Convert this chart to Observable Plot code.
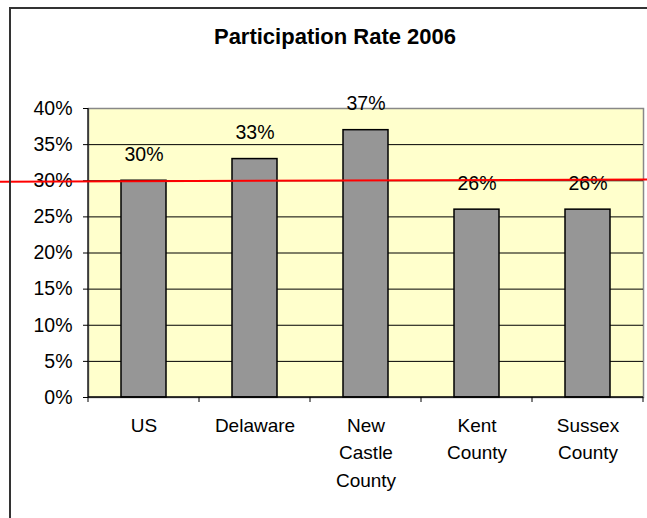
<!DOCTYPE html>
<html>
<head>
<meta charset="utf-8">
<script src="https://cdn.jsdelivr.net/npm/d3@7"></script>
<script src="https://cdn.jsdelivr.net/npm/@observablehq/plot@0.6"></script>
<style>
  html, body { margin: 0; padding: 0; background: #fff; }
  #wrap { position: relative; width: 647px; height: 518px; overflow: hidden; }
  #wrap svg { position: absolute; left: 0; top: 0; }
  #border { position: absolute; left: 9px; top: 7px; width: 700px; height: 600px;
            border-left: 2px solid #333; border-top: 2px solid #333; pointer-events: none; }
</style>
</head>
<body>
<div id="wrap"><div id="border"></div></div>
<script>
// ---- data ----
const title = "Participation Rate 2006";
const categories = ["US", "Delaware", "New Castle County", "Kent County", "Sussex County"];
const xLabels = ["US", "Delaware", "New\nCastle\nCounty", "Kent\nCounty", "Sussex\nCounty"];
const values = [0.30, 0.33, 0.37, 0.26, 0.26];
const yTicks = [0, 0.05, 0.10, 0.15, 0.20, 0.25, 0.30, 0.35, 0.40];
const gridTicks = [0.05, 0.10, 0.15, 0.20, 0.25, 0.30, 0.35];
const refLine = [0.298, 0.301]; // red reference line, left end / right end value

const data = categories.map((c, i) => ({category: c, value: values[i]}));
const pct = d3.format(".0%");

// axis decorations: left axis line, bottom category-boundary ticks
function axisDecor(index, scales, values, dims) {
  const g = d3.create("svg:g");
  const x = scales.x, y = scales.y;
  const left = dims.marginLeft, right = dims.width - dims.marginRight;
  const y0 = y(0), yTop = dims.marginTop;
  g.append("line").attr("x1", left).attr("x2", left).attr("y1", yTop).attr("y2", y0)
    .attr("stroke", "#222").attr("stroke-width", 1.5);
  g.append("line").attr("x1", left).attr("x2", right).attr("y1", y0).attr("y2", y0)
    .attr("stroke", "#000").attr("stroke-width", 1.5);
  const bounds = categories.map(c => x(c)).concat([right]);
  for (const b of bounds) {
    g.append("line").attr("x1", b).attr("x2", b).attr("y1", y0).attr("y2", y0 + 5)
      .attr("stroke", "#000").attr("stroke-width", 1);
  }
  return g.node();
}

// red reference line spanning the full width
function redLine(index, scales, values, dims) {
  return d3.create("svg:line")
    .attr("x1", 0).attr("x2", dims.width)
    .attr("y1", scales.y(refLine[0])).attr("y2", scales.y(refLine[1]))
    .attr("stroke", "#ff0000").attr("stroke-width", 2)
    .node();
}

const chart = Plot.plot({
  width: 647,
  height: 518,
  marginTop: 108,
  marginBottom: 121,
  marginLeft: 88,
  marginRight: 4,
  style: {fontFamily: "'Liberation Sans', Arial, sans-serif", fontSize: "19px", background: "transparent", color: "#000"},
  x: {domain: categories, padding: 0, axis: null},
  y: {domain: [0, 0.40], axis: null},
  marks: [
    Plot.frame({fill: "#FFFFCC", stroke: "#888", strokeWidth: 1.5}),
    Plot.ruleY(gridTicks, {stroke: "#000", strokeWidth: 1}),
    Plot.barY(data, {x: "category", y: "value", fill: "#969696", stroke: "#000", strokeWidth: 1.5, insetLeft: 33, insetRight: 33}),
    axisDecor,
    Plot.axisY({ticks: yTicks, tickFormat: pct, tickSize: 5, tickPadding: 11, fontSize: 19.5, label: null}),
    Plot.text(data, {x: "category", y: "value", text: d => pct(d.value), dy: -26, lineAnchor: "middle", fontSize: 19.5}),
    Plot.text(categories, {x: d => d, text: (d, i) => xLabels[i], frameAnchor: "bottom", lineAnchor: "top", dy: 14.5, lineHeight: 1.46, fontSize: 19}),
    Plot.text([title], {frameAnchor: "top-left", textAnchor: "middle", lineAnchor: "middle", dx: 246.5, dy: -72, fontWeight: "bold", fontSize: 22}),
    redLine
  ]
});
document.getElementById("wrap").insertBefore(chart, document.getElementById("border"));
</script>
</body>
</html>
